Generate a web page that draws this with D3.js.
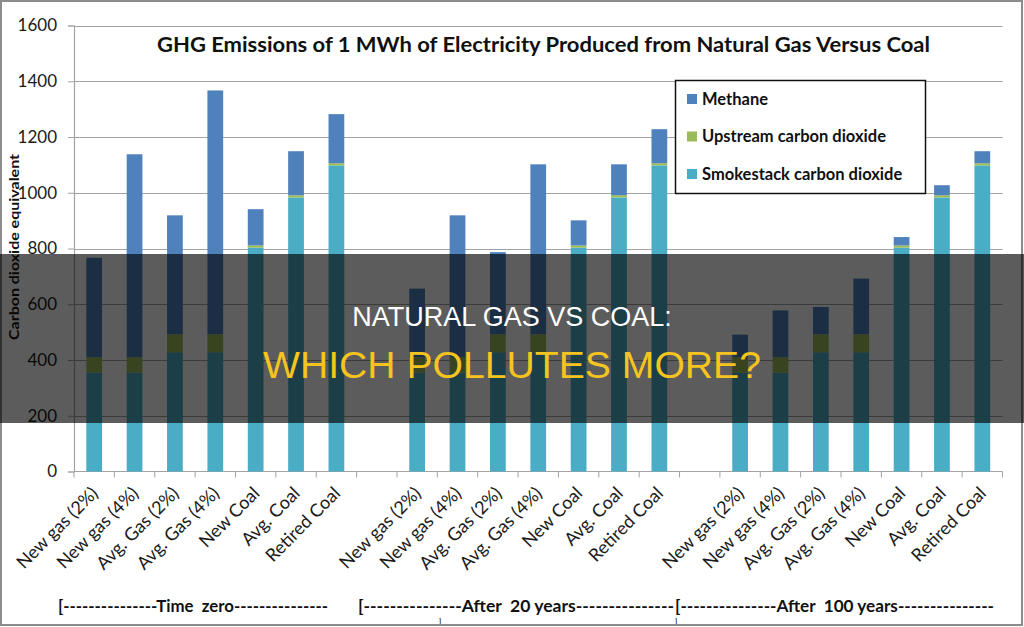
<!DOCTYPE html>
<html>
<head>
<meta charset="utf-8">
<script src="https://cdn.jsdelivr.net/npm/d3@7"></script>
<style>
  html, body { margin: 0; padding: 0; background: #fff; }
  body { width: 1024px; height: 627px; overflow: hidden; }
  svg { display: block; }
</style>
</head>
<body>
<script>
const width = 1024;
const height = 627;

const categories = ["New gas (2%)", "New gas (4%)", "Avg. Gas (2%)", "Avg. Gas (4%)", "New Coal", "Avg. Coal", "Retired Coal"];
const periods = ["Time  zero", "After  20 years", "After  100 years"];
const seriesNames = ["Methane", "Upstream carbon dioxide", "Smokestack carbon dioxide"];

// same smokestack / upstream values in every period, only methane changes
const smokestack = [355, 355, 428, 428, 803, 983, 1098];
const upstream = [55, 55, 64, 64, 8, 8, 8];
const methaneZero = [357, 728, 427, 875, 130, 158, 176];
const methane20 = [246, 509, 295, 610, 90, 111, 122];
const methane100 = [81, 168, 98, 200, 30, 36, 43];
const methane = [methaneZero, methane20, methane100];

const yTicks = [0, 200, 400, 600, 800, 1000, 1200, 1400, 1600];

const colors = { Methane: "#4f81bd", "Upstream carbon dioxide": "#9bbb59", "Smokestack carbon dioxide": "#4bacc6" };
const tickFont = "Lato, 'Open Sans', sans-serif";

const slots = [];
periods.forEach((p, pi) => {
  if (pi > 0) slots.push({ id: `gap${pi}`, gap: true });
  categories.forEach((c, ci) => {
    slots.push({
      id: `${pi}-${ci}`,
      label: c,
      period: pi,
      smoke: smokestack[ci],
      up: upstream[ci],
      meth: methane[pi][ci],
    });
  });
});
const bars = slots.filter((s) => !s.gap);

const plot = { left: 74, right: 1002.5, top: 25.5, bottom: 471.5 };

const x = d3.scaleBand().domain(slots.map((s) => s.id)).range([plot.left, plot.right]);
const y = d3.scaleLinear().domain([0, 1600]).range([plot.bottom, plot.top]);
const barW = x.bandwidth() * 0.39;

const stack = d3.stack().keys(["smoke", "up", "meth"]);
const layers = stack(bars);
const layerName = { smoke: "Smokestack carbon dioxide", up: "Upstream carbon dioxide", meth: "Methane" };

function setupChart() {
  const svg = d3.create("svg").attr("width", width).attr("height", height).attr("viewBox", [0, 0, width, height]);

  svg.append("rect").attr("width", width).attr("height", height).attr("fill", "#fff");

  // gridlines
  svg.append("g")
    .selectAll("line")
    .data(yTicks.filter((t) => t > 0))
    .join("line")
    .attr("x1", plot.left)
    .attr("x2", plot.right)
    .attr("y1", (d) => Math.round(y(d)) + 0.5)
    .attr("y2", (d) => Math.round(y(d)) + 0.5)
    .attr("stroke", "#a3a3a3")
    .attr("stroke-width", 1.2);

  // y axis
  const yAxis = svg.append("g")
    .attr("transform", `translate(${plot.left},0)`)
    .call(d3.axisLeft(y).tickValues(yTicks).tickFormat(d3.format("d")).tickSize(6).tickPadding(11));
  yAxis.select(".domain").attr("stroke", "#a3a3a3").attr("stroke-width", 1.2);
  yAxis.selectAll(".tick line").attr("stroke", "#a3a3a3");
  yAxis.selectAll(".tick text")
    .attr("font-family", tickFont)
    .attr("font-size", 17)
    .attr("fill", "#1a1a1a");

  // x axis
  const xAxis = svg.append("g");
  xAxis.append("line")
    .attr("x1", plot.left).attr("x2", plot.right)
    .attr("y1", plot.bottom).attr("y2", plot.bottom)
    .attr("stroke", "#a3a3a3").attr("stroke-width", 1.2);
  const bounds = slots.map((s) => x(s.id)).concat([plot.right]);
  xAxis.selectAll(".xt")
    .data(bounds)
    .join("line")
    .attr("class", "xt")
    .attr("x1", (d) => d).attr("x2", (d) => d)
    .attr("y1", plot.bottom).attr("y2", plot.bottom + 6)
    .attr("stroke", "#a3a3a3");

  xAxis.selectAll(".xl")
    .data(bars)
    .join("text")
    .attr("class", "xl")
    .attr("transform", (d) => `translate(${x(d.id) + x.bandwidth() / 2 + 5},${plot.bottom + 23}) rotate(-45)`)
    .attr("text-anchor", "end")
    .attr("font-family", tickFont)
    .attr("font-size", 18)
    .attr("fill", "#1a1a1a")
    .text((d) => d.label);

  // bars
  svg.append("g")
    .selectAll("g")
    .data(layers)
    .join("g")
    .attr("fill", (d) => colors[layerName[d.key]])
    .selectAll("rect")
    .data((d) => d)
    .join("rect")
    .attr("x", (d) => x(d.data.id) + (x.bandwidth() - barW) / 2)
    .attr("width", barW)
    .attr("y", (d) => y(d[1]))
    .attr("height", (d) => y(d[0]) - y(d[1]));

  // title
  svg.append("text")
    .attr("x", 157)
    .attr("y", 52)
    .attr("textLength", 773)
    .attr("lengthAdjust", "spacingAndGlyphs")
    .attr("font-family", tickFont)
    .attr("font-weight", "bold")
    .attr("font-size", 21)
    .attr("fill", "#111")
    .text("GHG Emissions of 1 MWh of Electricity Produced from Natural Gas Versus Coal");

  // y axis title
  svg.append("text")
    .attr("transform", "translate(19,247) rotate(-90)")
    .attr("text-anchor", "middle")
    .attr("textLength", 186)
    .attr("lengthAdjust", "spacingAndGlyphs")
    .attr("font-family", tickFont)
    .attr("font-weight", "bold")
    .attr("font-size", 13)
    .attr("fill", "#111")
    .text("Carbon dioxide equivalent");

  // legend
  const legend = svg.append("g");
  legend.append("rect")
    .attr("x", 675.5).attr("y", 80.5)
    .attr("width", 250).attr("height", 113)
    .attr("fill", "#fff")
    .attr("stroke", "#111")
    .attr("stroke-width", 1.5);
  const item = legend.selectAll(".li")
    .data(seriesNames)
    .join("g")
    .attr("class", "li")
    .attr("transform", (d, i) => `translate(687,${99 + i * 37.5})`);
  item.append("rect")
    .attr("y", -5).attr("width", 10).attr("height", 10)
    .attr("fill", (d) => colors[d]);
  item.append("text")
    .attr("x", 15)
    .attr("dy", "0.36em")
    .attr("font-family", tickFont)
    .attr("font-weight", "bold")
    .attr("font-size", 16.5)
    .attr("fill", "#111")
    .text((d) => d);

  // period labels under the axis
  const groupLabels = [
    { text: `[---------------${periods[0]}---------------`, x: 58, len: 270 },
    { text: `[---------------${periods[1]}---------------`, x: 358, len: 316 },
    { text: `[---------------${periods[2]}---------------`, x: 675, len: 319 },
  ];
  svg.append("g")
    .selectAll("text")
    .data(groupLabels)
    .join("text")
    .attr("x", (d) => d.x)
    .attr("y", 612)
    .attr("textLength", (d) => d.len)
    .attr("lengthAdjust", "spacingAndGlyphs")
    .attr("font-family", tickFont)
    .attr("font-weight", "bold")
    .attr("font-size", 17)
    .attr("fill", "#111")
    .style("white-space", "pre")
    .text((d) => d.text);
  // wrapped closing brackets, mostly hidden at the bottom edge in the original
  svg.append("g")
    .selectAll("text")
    .data([439, 675])
    .join("text")
    .attr("x", (d) => d)
    .attr("y", 624)
    .attr("font-family", tickFont)
    .attr("font-weight", "bold")
    .attr("font-size", 7)
    .attr("fill", "#111")
    .text("]");

  // frame
  svg.append("rect")
    .attr("x", 1).attr("y", 1)
    .attr("width", width - 3).attr("height", 624)
    .attr("fill", "none")
    .attr("stroke", "#8c8c8c")
    .attr("stroke-width", 2);

  // banner overlay
  svg.append("rect")
    .attr("x", 0).attr("y", 254)
    .attr("width", width).attr("height", 169)
    .attr("fill", "rgba(0,0,0,0.64)");
  svg.append("text")
    .attr("x", width / 2)
    .attr("y", 326)
    .attr("text-anchor", "middle")
    .attr("font-family", "'Liberation Sans', Arial, sans-serif")
    .attr("font-size", 27)
    .attr("fill", "#fff")
    .text("NATURAL GAS VS COAL:");
  svg.append("text")
    .attr("x", width / 2)
    .attr("y", 378)
    .attr("text-anchor", "middle")
    .attr("textLength", 498)
    .attr("lengthAdjust", "spacingAndGlyphs")
    .attr("font-family", "'Liberation Sans', Arial, sans-serif")
    .attr("font-size", 36)
    .attr("fill", "#f5c41f")
    .text("WHICH POLLUTES MORE?");

  return svg.node();
}

document.body.appendChild(setupChart());
</script>
</body>
</html>
